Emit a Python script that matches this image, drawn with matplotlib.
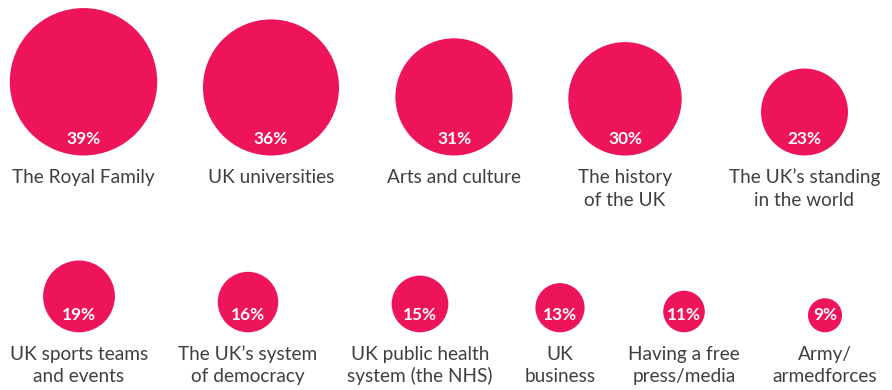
import matplotlib
matplotlib.use("Agg")
import matplotlib.pyplot as plt
from matplotlib.patches import Circle

# Survey results: share of respondents naming each item (%)
row1_labels = ["The Royal Family", "UK universities", "Arts and culture",
               "The history\nof the UK", "The UK\u2019s standing\nin the world"]
row1_values = [39, 36, 31, 30, 23]

row2_labels = ["UK sports teams\nand events", "The UK\u2019s system\nof democracy",
               "UK public health\nsystem (the NHS)", "UK\nbusiness",
               "Having a free\npress/media", "Army/\narmedforces"]
row2_values = [19, 16, 15, 13, 11, 9]

# Layout (pixel units)
W, H = 892, 390
row1_x = [83.5, 271, 454, 625, 804.5]
row2_x = [79, 248, 420, 560, 684, 825]
row_bottoms = [155.5, 332.3]
px_per_point = 3.78          # bubble diameter per percentage point
pink = "#EE1459"
text_color = "#3f3f3f"

fig = plt.figure(figsize=(W / 100, H / 100), dpi=100)
ax = fig.add_axes([0, 0, 1, 1])
ax.set_xlim(0, W)
ax.set_ylim(H, 0)
ax.axis("off")


def draw_row(xs, values, labels, bottom):
    for x, v, lab in zip(xs, values, labels):
        r = v * px_per_point / 2
        ax.add_patch(Circle((x, bottom - r), r, facecolor=pink, edgecolor="none"))
        ax.text(x, bottom - 16.8, f"{v}%", ha="center", va="center",
                color="white", fontsize=12.4, fontweight="bold", family="Lato")
        for i, line in enumerate(lab.split("\n")):
            ax.text(x, bottom + 27.5 + i * 22.6, line, ha="center",
                    va="baseline", color=text_color, fontsize=13.7,
                    family="Lato")


draw_row(row1_x, row1_values, row1_labels, row_bottoms[0])
draw_row(row2_x, row2_values, row2_labels, row_bottoms[1])

fig.savefig("out.png", dpi=100, facecolor="white")
